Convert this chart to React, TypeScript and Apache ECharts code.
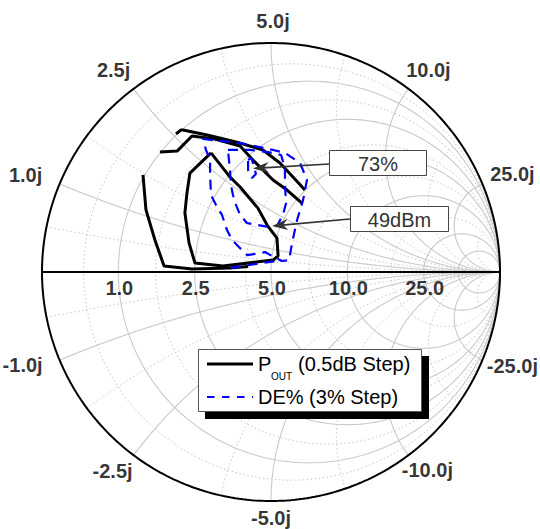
import React, { useEffect, useRef } from 'react';
import * as echarts from 'echarts';

// ---- Axis tick values (ohms, Z0 = 5 ohm) ----
const Z0 = 5;
const resistanceTicks = [1.0, 2.5, 5.0, 10.0, 25.0];
const resistanceTickLabels = ['1.0', '2.5', '5.0', '10.0', '25.0'];
const reactanceTicks = [5.0, 2.5, 10.0, 1.0, 25.0, -1.0, -25.0, -2.5, -10.0, -5.0];
const reactanceTickLabels = ['5.0j', '2.5j', '10.0j', '1.0j', '25.0j', '-1.0j', '-25.0j', '-2.5j', '-10.0j', '-5.0j'];

// ---- Smith grid (normalized) ----
const solidR = [0.2, 0.5, 1, 2, 5, 10];
const dottedR = [0.1, 0.33, 0.8, 1.4, 3.2];
const solidX = [0.2, 0.5, 1, 2, 5];
const dottedX = [0.1, 0.33, 0.8, 1.4, 3.2, 10];

// ---- Load-pull contours, reflection coefficient [Re, Im] ----
const poutOuter = [[-0.559, 0.424], [-0.546, 0.271], [-0.507, 0.140], [-0.467, 0.026], [-0.345, 0.013], [-0.179, 0.017], [-0.10, 0.024]];
const poutPeak = [[-0.262, 0.520], [-0.354, 0.432], [-0.367, 0.345], [-0.376, 0.258], [-0.358, 0.127], [-0.332, 0.039], [-0.210, 0.026], [0.009, 0.052], [0.031, 0.070], [0.026, 0.148], [-0.017, 0.205], [-0.057, 0.279], [-0.135, 0.371], [-0.179, 0.415], [-0.214, 0.459], [-0.262, 0.520]];
const poutTop = [[-0.415, 0.603], [-0.393, 0.620], [-0.384, 0.620], [-0.279, 0.598], [-0.135, 0.563], [-0.035, 0.533], [0.039, 0.476], [0.096, 0.415], [0.148, 0.358]];
const poutUpper = [[-0.485, 0.524], [-0.410, 0.528], [-0.345, 0.594], [-0.245, 0.581], [-0.135, 0.550], [-0.079, 0.489], [0.009, 0.402], [0.070, 0.358], [0.135, 0.301]];

const deOuter = [[-0.175, 0.017], [-0.092, 0.031], [-0.004, 0.044], [0.040, 0.050]];
const de67 = [[-0.297, 0.581], [-0.135, 0.563], [0.009, 0.533], [0.061, 0.520], [0.127, 0.476], [0.157, 0.402], [0.140, 0.314], [0.114, 0.227], [0.092, 0.127], [0.079, 0.052], [0.048, 0.048], [0.004, 0.070], [-0.026, 0.087], [-0.066, 0.079], [-0.105, 0.074], [-0.140, 0.109], [-0.170, 0.140], [-0.192, 0.183], [-0.214, 0.249], [-0.240, 0.293], [-0.262, 0.336], [-0.266, 0.424], [-0.266, 0.489], [-0.284, 0.533], [-0.297, 0.581]];
const de70 = [[-0.188, 0.533], [-0.092, 0.533], [-0.013, 0.524], [0.044, 0.511], [0.061, 0.454], [0.061, 0.380], [0.066, 0.301], [0.052, 0.249], [0.026, 0.201], [-0.013, 0.197], [-0.057, 0.205], [-0.105, 0.214], [-0.135, 0.249], [-0.153, 0.293], [-0.166, 0.336], [-0.175, 0.380], [-0.179, 0.445], [-0.188, 0.533]];
const de73 = [[-0.100, 0.489], [-0.087, 0.498], [-0.074, 0.463], [-0.066, 0.428], [-0.083, 0.410], [-0.100, 0.445], [-0.100, 0.489]];

// ---- layout (pixels) ----
const CX = 271, CY = 272, RAD = 229;
const FONT = '"Liberation Sans", Arial, sans-serif';
const reactanceNudge: number[][] = [[2, -22], [-20, -19], [20, -19], [-34, -9], [30, -10], [-37, 5], [30, 6], [-21, 16], [19, 15], [0, 17]];

function gamma(r: number, x: number): number[] {
  const d = (r + 1) * (r + 1) + x * x;
  return [(r * r - 1 + x * x) / d, (2 * x) / d];
}
function rCircle(r: number): number[][] {
  const c = r / (1 + r), a = 1 / (1 + r), pts: number[][] = [];
  for (let i = 0; i <= 360; i++) { const t = (i / 360) * 2 * Math.PI; pts.push([c + a * Math.cos(t), a * Math.sin(t)]); }
  return pts;
}
function xArc(x: number): number[][] {
  const pts: number[][] = [];
  for (let i = 0; i < 300; i++) { const r = Math.tan((i / 300) * Math.PI / 2); pts.push(gamma(r, x)); }
  pts.push([1, 0]);
  return pts;
}

function arrow(x0: number, y0: number, tx: number, ty: number) {
  const L = Math.hypot(tx - x0, ty - y0), ux = (tx - x0) / L, uy = (ty - y0) / L, nx = -uy, ny = ux;
  return [
    { type: 'line', z: 120, shape: { x1: x0, y1: y0, x2: tx - 10 * ux, y2: ty - 10 * uy }, style: { stroke: '#333', lineWidth: 1.6 } },
    { type: 'polygon', z: 121, shape: { points: [[tx, ty], [tx - 16 * ux + 5.5 * nx, ty - 16 * uy + 5.5 * ny], [tx - 11 * ux, ty - 11 * uy], [tx - 16 * ux - 5.5 * nx, ty - 16 * uy - 5.5 * ny]] }, style: { fill: '#333' } },
  ];
}
function txt(x: number, y: number, text: string, size: number, color: string, align = 'left') {
  return { type: 'text', z: 130, x, y, style: { text, font: `${size}px ${FONT}`, fill: color, align, verticalAlign: 'middle', textAlign: align, textVerticalAlign: 'middle' } };
}

export default function App() {
  const ref = useRef<HTMLDivElement>(null);
  useEffect(() => {
    if (!ref.current) return;
    const chart = echarts.init(ref.current, undefined, { renderer: 'svg' });
    const series: any[] = [];
    const gridLine = (data: number[][], dotted: boolean) => series.push({
      type: 'line', data, symbol: 'none', silent: true, z: 1,
      lineStyle: dotted ? { color: '#c4c4c4', width: 1, type: [1.5, 2.5] } : { color: '#c9c9c9', width: 1.1 },
    });
    dottedR.forEach((r) => gridLine(rCircle(r), true));
    dottedX.forEach((x) => { gridLine(xArc(x), true); gridLine(xArc(-x), true); });
    solidR.forEach((r) => gridLine(rCircle(r), false));
    solidX.forEach((x) => { gridLine(xArc(x), false); gridLine(xArc(-x), false); });
    series.push({ type: 'line', data: [[-1, 0], [1, 0]], symbol: 'none', silent: true, z: 2, lineStyle: { color: '#000', width: 2 } });
    series.push({ type: 'line', data: rCircle(0), symbol: 'none', silent: true, z: 2, clip: false, lineStyle: { color: '#000', width: 2 } });

    const pout = (d: number[][]) => series.push({ type: 'line', data: d, symbol: 'none', silent: true, z: 4, lineStyle: { color: '#000', width: 3 } });
    const de = (d: number[][]) => series.push({ type: 'line', data: d, symbol: 'none', silent: true, z: 5, lineStyle: { color: '#0000ff', width: 2.2, type: [10, 7] } });
    [poutOuter, poutPeak, poutTop, poutUpper].forEach(pout);
    [deOuter, de67, de70, de73].forEach(de);

    series.push({
      type: 'scatter', silent: true, z: 10, symbolSize: 1, itemStyle: { color: 'transparent' },
      label: { show: true, position: 'inside', formatter: '{b}', color: '#000', fontSize: 20, fontWeight: 'bold', fontFamily: FONT },
      data: resistanceTicks.map((R, i) => ({ name: resistanceTickLabels[i], value: gamma(R / Z0, 0), label: { offset: [1, 16] } })),
    });
    series.push({
      type: 'scatter', silent: true, z: 10, symbolSize: 1, itemStyle: { color: 'transparent' },
      label: { show: true, position: 'inside', formatter: '{b}', color: '#000', fontSize: 20, fontWeight: 'bold', fontFamily: FONT },
      data: reactanceTicks.map((X, i) => ({ name: reactanceTickLabels[i], value: gamma(0, X / Z0), label: { offset: reactanceNudge[i] } })),
    });

    const graphic: any[] = [
      // annotation boxes
      ...arrow(329, 164, 253, 168.5),
      { type: 'rect', z: 122, shape: { x: 329.5, y: 150.5, width: 97, height: 25 }, style: { fill: '#fff', stroke: '#444', lineWidth: 1 } },
      txt(378, 163.5, '73%', 20, '#333', 'center'),
      ...arrow(350, 219, 272, 226),
      { type: 'rect', z: 122, shape: { x: 350.5, y: 206.5, width: 98, height: 25 }, style: { fill: '#fff', stroke: '#444', lineWidth: 1 } },
      txt(399.5, 219.5, '49dBm', 20, '#333', 'center'),
      // legend
      { type: 'rect', z: 110, shape: { x: 205, y: 356, width: 224, height: 63 }, style: { fill: '#000' } },
      { type: 'rect', z: 111, shape: { x: 198.5, y: 349.5, width: 223, height: 62 }, style: { fill: '#fff', stroke: '#555', lineWidth: 1 } },
      { type: 'line', z: 112, shape: { x1: 207, y1: 364, x2: 253, y2: 364 }, style: { stroke: '#000', lineWidth: 3 } },
      { type: 'line', z: 112, shape: { x1: 207, y1: 397, x2: 253, y2: 397 }, style: { stroke: '#0000ff', lineWidth: 2.2, lineDash: [7.5, 7.5] } },
      txt(258, 364, 'P', 20, '#000'),
      txt(271, 376.5, 'OUT', 10, '#000'),
      txt(298, 364, '(0.5dB Step)', 20, '#000'),
      txt(258, 397, 'DE% (3% Step)', 20, '#000'),
    ];

    chart.setOption({
      animation: false,
      backgroundColor: '#fff',
      grid: { left: CX - RAD, top: CY - RAD, width: 2 * RAD, height: 2 * RAD, containLabel: false },
      xAxis: { type: 'value', min: -1, max: 1, show: false },
      yAxis: { type: 'value', min: -1, max: 1, show: false },
      series,
      graphic,
    });
    return () => chart.dispose();
  }, []);
  return <div ref={ref} style={{ position: 'fixed', left: 0, top: 0, width: 540, height: 529, background: '#fff' }} />;
}
